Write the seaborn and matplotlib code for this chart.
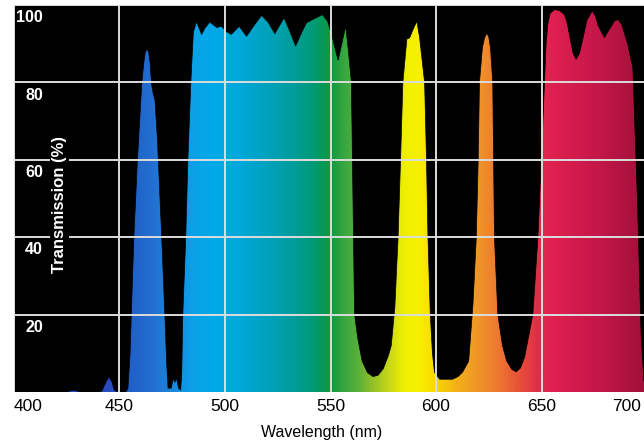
import numpy as np
import seaborn as sns
import matplotlib.pyplot as plt
from matplotlib.colors import LinearSegmentedColormap
from matplotlib.transforms import ScaledTranslation

# transmission curve (nm, %)
wavelength = [400, 425, 428, 432, 440, 441.7, 443.5, 445, 446.5, 447.5, 449,
              453, 454, 455, 456.8, 458.5, 460.6, 461.5, 462.2, 463, 463.8,
              464.5, 465.2, 466, 466.8, 468, 470, 471.5, 472.3, 473, 474.5,
              475.5, 476.3, 477, 478, 479, 479.5, 480, 481.4, 482.4, 483.8,
              485, 486.5, 488.9, 490.5, 492.8, 496, 498.3, 501, 503, 506.7,
              510.2, 513.5, 517.3, 520.5, 523.6, 528, 530.5, 533.5, 536,
              538.6, 541.7, 546.2, 548.7, 550.4, 553.6, 557.2, 558.5, 559.9,
              561.4, 562.9, 565, 567.5, 570.1, 572.5, 575, 577.5, 578.8,
              580.5, 582, 583.2, 584.3, 586.2, 587.5, 589, 590.9, 592.2,
              594.6, 595.5, 596.2, 597.3, 598.3, 599.3, 601.7, 607.9, 610.5,
              612.7, 615.5, 617.5, 619.1, 620, 620.6, 622, 623, 624.1, 625,
              625.8, 626.9, 627.3, 627.7, 629.3, 631.5, 633.5, 636, 638, 640,
              642, 645.9, 648.3, 649.9, 651.4, 652.2, 653, 654, 656.2, 658.5,
              660.9, 662.3, 663.5, 665, 666.4, 668, 669.5, 671.5, 674, 675.5,
              677, 679.8, 682.5, 684.5, 686.1, 688, 690.9, 693.3, 695.5,
              697.2, 698.5, 700]
transmission = [0, 0, 0.5, 0, 0, 0.3, 2.5, 3.9, 2.5, 0.5, 0,
                0, 1, 10, 40, 60, 80, 85, 87.8, 88.6, 88,
                85, 79.5, 77, 75.5, 65, 40, 20, 8, 1, 1,
                3.5, 2.5, 3.6, 1, 0.5, 5, 20, 40, 60, 80,
                93, 95.7, 92.4, 94, 95.6, 94.2, 94.5, 93, 92.4, 94.5,
                91.9, 94.5, 97.3, 95.5, 92.6, 96.7, 93.5, 89.4, 92.5,
                95.4, 96.3, 97.5, 95.7, 92.6, 85.7, 94.5, 88, 80,
                20, 13.9, 8, 5, 4, 4.3, 6, 9.5, 12,
                22, 39.6, 60, 80, 91.2, 91.5, 93.5, 95.8, 91.7,
                80, 60, 40, 20, 10, 5, 3.3, 3.3, 4,
                5.2, 8, 22.5, 40, 60, 80, 89, 91.5, 92.7, 91.8,
                89, 80, 60, 40, 20, 12, 8, 5.8, 5.2, 6.2,
                9, 20, 40, 60, 80, 90, 95, 97.8, 98.8, 98.6,
                97.5, 95, 91.5, 87.5, 86, 87.5, 91, 96, 98.5, 97.2,
                94.5, 91.6, 94, 95.8, 96.3, 95, 89.8, 83.8, 49,
                15, 3, 0]

x_ticks = [400, 450, 500, 550, 600, 650, 700]
y_ticks = [20, 40, 60, 80, 100]
x_label = 'Wavelength (nm)'
y_label = 'Transmission (%)'

# spectrum colours used for the fill
grad_wl = [400, 445, 455, 465, 475, 485, 495, 505, 515, 525, 535, 543, 550,
           557, 563, 570, 578, 585, 592, 600, 610, 620, 630, 640, 648, 655,
           675, 700]
grad_colors = ['#2a3fb8', '#2a4cc0', '#2060c8', '#236ed0', '#1a88dc',
               '#0aa2e8', '#00aae8', '#00a8dc', '#00a4c8', '#00a0b0',
               '#009c90', '#009a70', '#10983c', '#3aa840', '#58b038',
               '#90c028', '#c8d818', '#eef000', '#f8f000', '#f8d800',
               '#f4b018', '#f09628', '#ec7830', '#e85038', '#e03048',
               '#e02050', '#c8184a', '#a01038']

sns.set_theme(style='dark', rc={'axes.facecolor': 'black',
                                'figure.facecolor': 'white'})
plt.rcParams['font.family'] = ['Liberation Sans', 'DejaVu Sans']

fig = plt.figure(figsize=(6.44, 4.45), dpi=100)
ax = fig.add_axes([14 / 644, 53 / 445, 633 / 644, 387 / 445])

stops = [(w - 400) / 300 for w in grad_wl]
cmap = LinearSegmentedColormap.from_list('spectrum', list(zip(stops, grad_colors)))
grad = cmap(np.linspace(0, 1, 900))[np.newaxis, :, :]
im = ax.imshow(grad, extent=[400, 700, 0, 100], aspect='auto',
               origin='lower', zorder=1, interpolation='bilinear')
poly = ax.fill_between(wavelength, transmission, 0, color='none', lw=0)
im.set_clip_path(poly.get_paths()[0], transform=ax.transData)

sns.lineplot(x=wavelength, y=transmission, ax=ax, color='black', lw=0.5,
             zorder=2)

ax.set_xlim(400, 700)
ax.set_ylim(0, 100)
ax.set_xticks(x_ticks)
ax.set_yticks(y_ticks)
ax.set_axisbelow(False)
ax.grid(True, color='#dcdcdc', lw=1.4)
for s in ax.spines.values():
    s.set_visible(False)

ax.tick_params(axis='y', left=False, labelleft=False)
ax.tick_params(axis='x', bottom=False, length=0, pad=5, labelsize=12.5,
               labelcolor='black')
labels = ax.get_xticklabels()
labels[0].set_ha('left')
labels[-1].set_ha('right')
labels[-1].set_transform(labels[-1].get_transform() +
                         ScaledTranslation(-4 / 72, 0, fig.dpi_scale_trans))

for v in y_ticks:
    ax.text(413.7, v - 3.3, str(v), color='white', fontweight='bold',
            fontsize=11.5, ha='right', va='center', zorder=4)

ax.text(421.8, 48.4, y_label, color='white', fontweight='bold', fontsize=12,
        rotation=90, ha='center', va='center', zorder=4,
        bbox=dict(facecolor='black', edgecolor='none', pad=1.5))

ax.set_xlabel(x_label, fontsize=11.5, color='black')
ax.xaxis.set_label_coords((322 - 14) / 633, (392 - 425) / 387)

fig.savefig('out.png', dpi=100)
